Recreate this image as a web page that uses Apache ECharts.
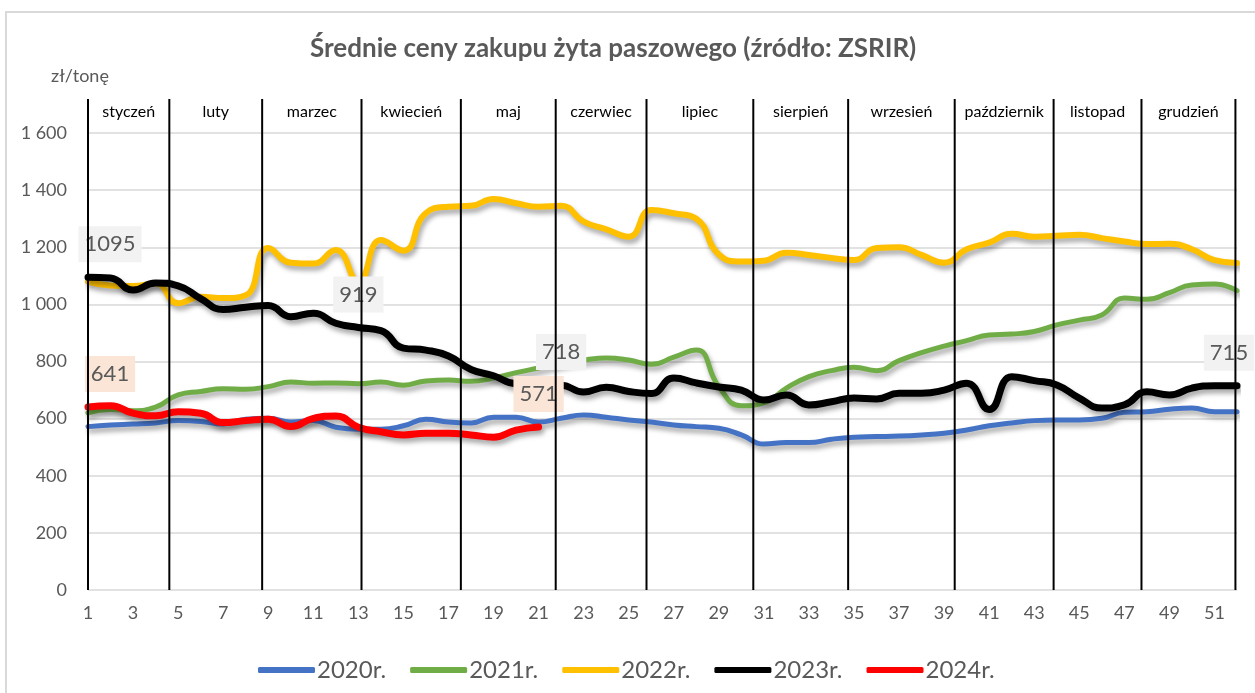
<!DOCTYPE html>
<html>
<head>
<meta charset="utf-8">
<title>Średnie ceny zakupu żyta paszowego</title>
<script src="https://cdn.jsdelivr.net/npm/echarts@6/dist/echarts.min.js"></script>
<style>
  html, body { margin: 0; padding: 0; background: #fff; }
  #chart { width: 1255px; height: 693px; }
</style>
</head>
<body>
<div id="chart"></div>
<script>
// tygodnie 1..52
const weeks = ['1','2','3','4','5','6','7','8','9','10','11','12','13','14','15','16','17','18','19','20',
  '21','22','23','24','25','26','27','28','29','30','31','32','33','34','35','36','37','38','39','40',
  '41','42','43','44','45','46','47','48','49','50','51','52'];

const s2020 = [572, 578, 581, 585, 593, 590, 581, 598, 601, 588, 593, 570, 563, 563, 575, 598, 588, 585, 605, 605,
  588, 601, 613, 605, 595, 588, 578, 572, 566, 543, 511, 516, 516, 528, 535, 537, 539, 543, 549, 560,
  575, 585, 593, 595, 595, 601, 622, 624, 633, 637, 624, 624];
const s2021 = [620, 632, 628, 640, 683, 695, 705, 703, 712, 728, 724, 725, 722, 728, 717, 732, 735, 731, 742, 761,
  777, 794, 805, 812, 805, 790, 815, 840, 712, 645, 655, 707, 747, 768, 780, 768, 803, 831, 854, 873,
  893, 896, 905, 928, 945, 963, 1022, 1018, 1041, 1068, 1071, 1048];
const s2022 = [1080, 1066, 1064, 1074, 1004, 1027, 1022, 1032, 1197, 1146, 1143, 1190, 1080, 1225, 1188, 1320, 1342, 1345, 1369, 1354,
  1342, 1345, 1290, 1263, 1237, 1330, 1319, 1300, 1175, 1150, 1153, 1181, 1173, 1162, 1155, 1197, 1200, 1173, 1146, 1193,
  1216, 1247, 1237, 1240, 1244, 1232, 1220, 1211, 1212, 1193, 1155, 1145];
const s2023 = [1095, 1092, 1050, 1075, 1065, 1020, 982, 990, 996, 957, 969, 934, 919, 908, 847, 840, 819, 772, 750, 722,
  720, 718, 693, 710, 695, 688, 742, 725, 711, 700, 665, 683, 648, 659, 672, 669, 689, 689, 700, 724,
  632, 747, 733, 718, 672, 637, 648, 694, 683, 707, 715, 715];
const s2024 = [641, 645, 619, 610, 624, 619, 586, 593, 598, 572, 601, 609, 570, 554, 543, 549, 549, 543, 535, 560, 571];

// granice miesięcy (w tygodniach) i nazwy
const monthBounds = [1, 4.61, 8.73, 13.14, 17.55, 21.76, 25.79, 30.53, 34.74, 39.47, 43.86, 47.76, 51.93];
const monthNames = ['styczeń', 'luty', 'marzec', 'kwiecień', 'maj', 'czerwiec', 'lipiec', 'sierpień',
  'wrzesień', 'październik', 'listopad', 'grudzień'];

// etykiety danych: [indeks, przesunięcie x]
const labels2023 = [[0, 22], [12, 0], [21, 0], [51, -8]];
const labels2024 = [[0, 22], [20, 0]];

const FONT = 'Lato, "Liberation Sans", sans-serif';
const GREY = '#595959';

function withLabels(values, list, bg) {
  return values.map((v, i) => {
    const hit = list.find(item => item[0] === i);
    if (!hit) return v;
    return {
      value: v,
      label: {
        show: true,
        position: 'top',
        distance: 15,
        offset: [hit[1], 0],
        fontFamily: FONT,
        fontSize: 22,
        lineHeight: 24,
        color: GREY,
        backgroundColor: bg,
        padding: [6, 6]
      }
    };
  });
}

function lineSeries(name, data, color, width) {
  return {
    name: name,
    type: 'line',
    data: data,
    smooth: true,
    showSymbol: true,
    showAllSymbol: true,
    symbol: 'circle',
    symbolSize: 0,
    itemStyle: { color: color },
    lineStyle: {
      color: color,
      width: width,
      cap: 'round',
      shadowColor: 'rgba(0,0,0,0.35)',
      shadowBlur: 5,
      shadowOffsetX: 2,
      shadowOffsetY: 4
    },
    label: { show: false },
    emphasis: { disabled: true },
    z: 2
  };
}

const chart = echarts.init(document.getElementById('chart'));

chart.setOption({
  animation: false,
  backgroundColor: '#fff',
  graphic: [{
    type: 'rect',
    shape: { x: 6, y: 12, width: 1400, height: 900 },
    style: { fill: 'none', stroke: '#d9d9d9', lineWidth: 2 },
    silent: true
  }],
  title: {
    text: 'Średnie ceny zakupu żyta paszowego (źródło: ZSRIR)',
    left: 305,
    top: 31,
    textStyle: { fontFamily: FONT, fontSize: 26, fontWeight: 'bold', color: GREY }
  },
  legend: {
    left: 253,
    top: 653,
    itemWidth: 57,
    itemHeight: 6,
    itemGap: 24,
    icon: 'roundRect',
    textStyle: { fontFamily: FONT, fontSize: 24, color: GREY, padding: [0, 0, 0, -3] },
    data: ['2020r.', '2021r.', '2022r.', '2023r.', '2024r.']
  },
  grid: { left: 88, right: 18, top: 133, bottom: 103 },
  xAxis: [{
    type: 'category',
    data: weeks,
    boundaryGap: false,
    axisLine: { show: false },
    axisTick: { show: false },
    axisLabel: { interval: 1, margin: 14, fontFamily: FONT, fontSize: 18, color: GREY }
  }, {
    type: 'value',
    min: 1,
    max: 52,
    show: false
  }],
  yAxis: {
    type: 'value',
    min: 0,
    max: 1600,
    interval: 200,
    name: 'zł/tonę',
    nameLocation: 'end',
    nameGap: 48,
    nameTextStyle: { fontFamily: FONT, fontSize: 18, color: GREY, align: 'center', padding: [0, 16, 0, 0] },
    axisLine: { show: false },
    axisTick: { show: false },
    axisLabel: {
      margin: 21,
      fontFamily: FONT,
      fontSize: 18,
      color: GREY,
      formatter: v => String(v).replace(/\B(?=(\d{3})+(?!\d))/g, ' ')
    },
    splitLine: { lineStyle: { color: '#d9d9d9', width: 1.5 } }
  },
  series: [
    lineSeries('2020r.', s2020, '#4472C4', 5),
    lineSeries('2021r.', s2021, '#70AD47', 5),
    lineSeries('2022r.', s2022, '#FFC000', 6),
    lineSeries('2023r.', withLabels(s2023, labels2023, '#F2F2F2'), '#000000', 7),
    lineSeries('2024r.', withLabels(s2024, labels2024, '#FBE5D6'), '#FF0000', 7),
    {
      // pionowe linie miesięcy
      type: 'custom',
      xAxisIndex: 1,
      yAxisIndex: 0,
      clip: false,
      silent: true,
      z: 10,
      encode: { x: 0, y: 1 },
      data: monthBounds.map(b => [b, 0]),
      renderItem: function (params, api) {
        const bottom = api.coord([api.value(0), 0]);
        const top = api.coord([api.value(0), 1600]);
        return {
          type: 'line',
          shape: { x1: bottom[0], y1: bottom[1], x2: top[0], y2: top[1] - 34 },
          style: { stroke: '#000', lineWidth: 2 }
        };
      }
    },
    {
      // nazwy miesięcy
      type: 'custom',
      xAxisIndex: 1,
      yAxisIndex: 0,
      clip: false,
      silent: true,
      z: 10,
      encode: { x: 0, y: 1 },
      data: monthNames.map((m, i) => [(monthBounds[i] + monthBounds[i + 1]) / 2, 1600]),
      renderItem: function (params, api) {
        const p = api.coord([api.value(0), 1600]);
        return {
          type: 'text',
          x: p[0],
          y: p[1] - 21,
          style: {
            text: monthNames[params.dataIndex],
            fill: '#000',
            font: '16px ' + FONT,
            textAlign: 'center',
            textVerticalAlign: 'middle',
            align: 'center',
            verticalAlign: 'middle'
          }
        };
      }
    }
  ]
});
</script>
</body>
</html>
